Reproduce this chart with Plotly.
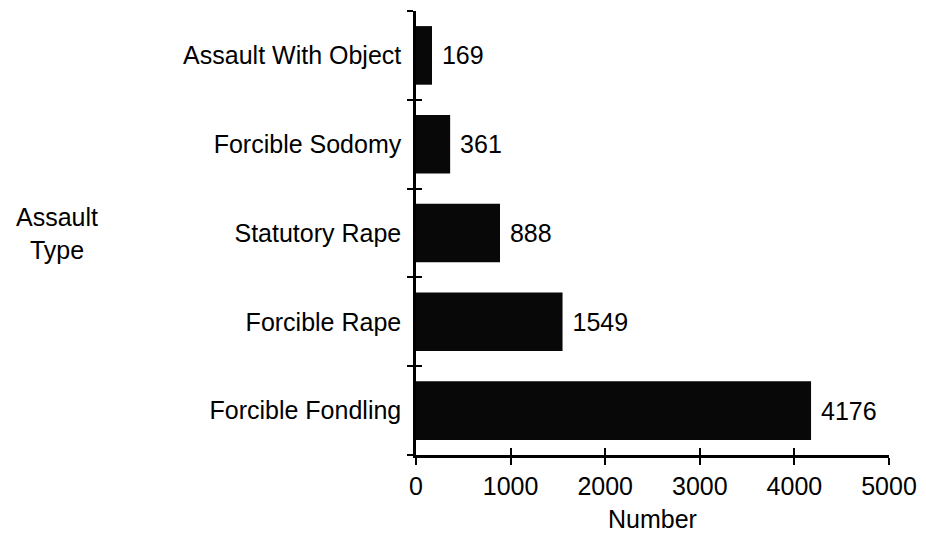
import plotly.graph_objects as go

categories = ["Forcible Fondling", "Forcible Rape", "Statutory Rape", "Forcible Sodomy", "Assault With Object"]
values = [4176, 1549, 888, 361, 169]
x_ticks = [0, 1000, 2000, 3000, 4000, 5000]

FONT = "Liberation Sans, Arial, Helvetica, sans-serif"
FS = 25

fig = go.Figure()
fig.add_trace(go.Bar(
    x=values, y=categories, orientation="h",
    marker=dict(color="#080808", line=dict(width=0)),
    texttemplate="\u00a0%{x}", textposition="outside",
    textfont=dict(family=FONT, size=FS, color="black"),
    cliponaxis=False, hoverinfo="skip", showlegend=False,
))
# invisible twin trace to draw the inner half of the crossing ticks
fig.add_trace(go.Bar(
    x=values, y=categories, orientation="h", xaxis="x2", yaxis="y2",
    marker=dict(color="rgba(0,0,0,0)", line=dict(width=0)),
    hoverinfo="skip", showlegend=False,
))

fig.update_layout(
    width=926, height=535,
    margin=dict(l=416, r=37, t=11, b=80),
    paper_bgcolor="white", plot_bgcolor="white",
    bargap=0.34,
    font=dict(family=FONT, size=FS, color="black"),
    xaxis=dict(
        range=[0, 5000], tickvals=x_ticks, ticks="outside", ticklen=7, tickwidth=2,
        tickcolor="black", showline=True, linewidth=2.5, linecolor="black",
        showgrid=False, zeroline=False, automargin=False,
        tickfont=dict(size=FS), ticklabelstandoff=0,
    ),
    yaxis=dict(
        type="category", categoryorder="array", categoryarray=categories,
        tickson="boundaries", ticks="outside", ticklen=6, tickwidth=2, tickcolor="black",
        showline=True, linewidth=2.5, linecolor="black", showgrid=False, automargin=False,
        tickfont=dict(size=FS), ticklabelstandoff=7,
    ),
    xaxis2=dict(
        overlaying="x", anchor="y", side="bottom", range=[0, 5000], tickvals=x_ticks,
        ticks="inside", ticklen=7, tickwidth=2, tickcolor="black",
        showticklabels=False, showline=False, showgrid=False, zeroline=False,
    ),
    yaxis2=dict(
        overlaying="y", anchor="x", side="left", type="category",
        categoryorder="array", categoryarray=categories,
        tickson="boundaries", ticks="inside", ticklen=6, tickwidth=2, tickcolor="black",
        showticklabels=False, showline=False, showgrid=False,
    ),
    annotations=[
        dict(
            text="Assault<br>Type", xref="paper", yref="paper", x=-0.76, y=0.5,
            xanchor="center", yanchor="middle", showarrow=False,
            font=dict(family=FONT, size=FS, color="black"), align="center",
        ),
        dict(
            text="Number", xref="paper", yref="paper", x=0.5, y=0,
            xanchor="center", yanchor="middle", yshift=-64, showarrow=False,
            font=dict(family=FONT, size=FS, color="black"),
        ),
    ],
)

fig.write_html(
    "out.html",
    config={"displayModeBar": False},
    post_script="document.body.style.margin='0';document.body.style.padding='0';",
)
